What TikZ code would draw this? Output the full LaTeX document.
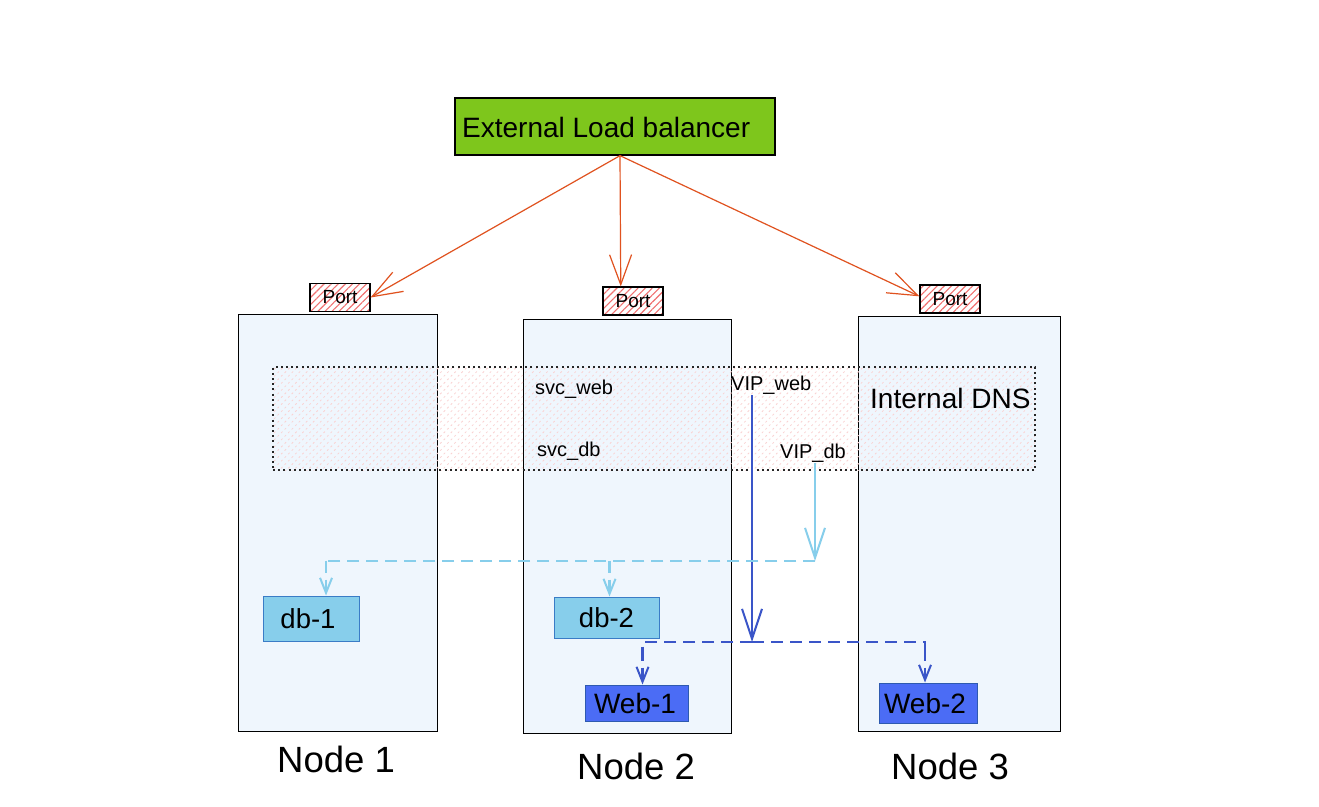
\documentclass[tikz,border=0pt]{standalone}
\usepackage{fontspec}
\setmainfont{Liberation Sans}
\usetikzlibrary{arrows.meta,patterns.meta,calc}
\definecolor{elbgreen}{HTML}{7EC61C}
\definecolor{nodefill}{HTML}{EFF6FD}
\definecolor{arroworange}{HTML}{E0521F}
\definecolor{darkblue}{HTML}{3A55C8}
\definecolor{skyblue}{HTML}{87CEEB}
\definecolor{dbborder}{HTML}{3A7CC6}
\definecolor{webfill}{HTML}{4B6CF5}
\definecolor{webborder}{HTML}{2E5AB0}
\definecolor{hatchpink}{HTML}{F07070}
\definecolor{bandpink}{HTML}{FAD2D2}
\tikzset{
  hostbox/.style={draw=black, line width=1pt, fill=nodefill, inner sep=0pt},
  portbox/.style={draw=black, line width=1.2pt, inner sep=0pt, minimum width=60pt, minimum height=28pt,
    pattern={Lines[angle=45,distance=5pt,line width=1.1pt]}, pattern color=hatchpink, font=\fontsize{19}{21}\selectfont},
  dbbox/.style={draw=dbborder, line width=1pt, fill=skyblue, inner sep=0pt, font=\fontsize{27.5}{30}\selectfont},
  webbox/.style={draw=webborder, line width=1pt, fill=webfill, inner sep=0pt, font=\fontsize{28}{30}\selectfont},
  lbl/.style={inner sep=0pt, anchor=west, font=\fontsize{20}{22}\selectfont},
  hostlbl/.style={inner sep=0pt, font=\fontsize{36.5}{40}\selectfont},
  orangearrow/.style={draw=arroworange, line width=1.2pt, -{Straight Barb[length=30pt,width=22pt,line width=1.2pt]}},
  solidblue/.style={line width=2pt, -{Straight Barb[length=30pt,width=20pt,line width=2pt]}},
  dashline/.style={line width=2.2pt, dash pattern=on 12pt off 7pt},
  dasharrow/.style={line width=2.2pt, dash pattern=on 12pt off 7pt, -{Straight Barb[length=15pt,width=12pt,line width=2pt]}},
}
\begin{document}
\begin{tikzpicture}[x=1pt,y=-1pt]
\useasboundingbox (0,0) rectangle (1319,806);
\fill[white] (0,0) rectangle (1319,806);

% host boxes
\node[hostbox, minimum width=199pt, minimum height=417pt] (host1) at (337.5,522.5) {};
\node[hostbox, minimum width=208pt, minimum height=414pt] (host2) at (627,526) {};
\node[hostbox, minimum width=202pt, minimum height=415pt] (host3) at (959,523.5) {};

% internal DNS band
\node[draw=black!85, line width=1.5pt, dash pattern=on 2pt off 3.2pt, inner sep=0pt,
  minimum width=762pt, minimum height=103pt,
  pattern={Lines[angle=45,distance=5pt,line width=0.8pt]}, pattern color=bandpink] (dns) at (654,418.5) {};

% texts in band
\node[lbl] (svcweb) at (535,389) {svc\_web};
\node[lbl] (svcdb) at (537,451) {svc\_db};
\node[lbl] (vipweb) at (731,385) {VIP\_web};
\node[lbl] (vipdb) at (780,453) {VIP\_db};
\node[inner sep=0pt, anchor=west, font=\fontsize{28}{30}\selectfont] (dnslbl) at (870,398) {Internal DNS};

% load balancer
\node[draw=black, line width=1.3pt, fill=elbgreen, minimum width=320pt, minimum height=57pt, inner sep=0pt] (elb) at (615,126.5) {};
\node[inner sep=0pt, anchor=west, font=\fontsize{28}{30}\selectfont] (elblbl) at (462,127) {External Load balancer};

% ports
\node[portbox] (port1) at (340,297.5) {Port};
\node[portbox] (port2) at (633,301) {Port};
\node[portbox] (port3) at (950,299) {Port};

% pods
\node[dbbox, minimum width=96pt, minimum height=45pt] (db1) at (311,618.5) {\hspace*{-6pt}db-1};
\node[dbbox, minimum width=105pt, minimum height=41pt] (db2) at (606.5,617.5) {db-2};
\node[webbox, minimum width=103pt, minimum height=36pt] (web1) at (636.5,703) {\hspace*{-3pt}Web-1};
\node[webbox, minimum width=98pt, minimum height=40pt] (web2) at (928,703) {\hspace*{-6pt}Web-2};

% host labels
\node[hostlbl] (h1lbl) at (336,759) {Node 1};
\node[hostlbl] (h2lbl) at (636,766) {Node 2};
\node[hostlbl] (h3lbl) at (950,766) {Node 3};

% orange arrows
\coordinate (elbout) at ($(elb.south)+(5,0)$);
\draw[orangearrow] (elbout) -- (port1.east);
\draw[orangearrow] (elbout) -- (port2.130);
\draw[orangearrow] (elbout) -- (port3.175);

% VIP_web path
\coordinate (webj) at (752,642);
\coordinate (webstart) at (752,395);
\draw[solidblue, darkblue] (webstart) -- (webj);
\coordinate (w1top) at ($(web1.north)+(6,-36)$);
\coordinate (w2top) at ($(web2.north)+(-3,-34)$);
\draw[dashline, darkblue] (webj) -| (w1top);
\draw[dashline, darkblue] (webj) -| (w2top);
\draw[dasharrow, darkblue] (w1top) -- ($(web1.north)+(6,0)$);
\draw[dasharrow, darkblue] (w2top) -- ($(web2.north)+(-3,0)$);

% VIP_db path
\coordinate (dbj) at (815,561);
\coordinate (dbstart) at (815,463);
\draw[solidblue, skyblue] (dbstart) -- (dbj);
\coordinate (d1top) at ($(db1.north)+(15,-35)$);
\coordinate (d2top) at ($(db2.north)+(3,-36)$);
\draw[dashline, skyblue] (dbj) -| (d1top);
\draw[dashline, skyblue] (dbj) -| (d2top);
\draw[dasharrow, skyblue] (d1top) -- ($(db1.north)+(15,0)$);
\draw[dasharrow, skyblue] (d2top) -- ($(db2.north)+(3,0)$);
\end{tikzpicture}
\end{document}
